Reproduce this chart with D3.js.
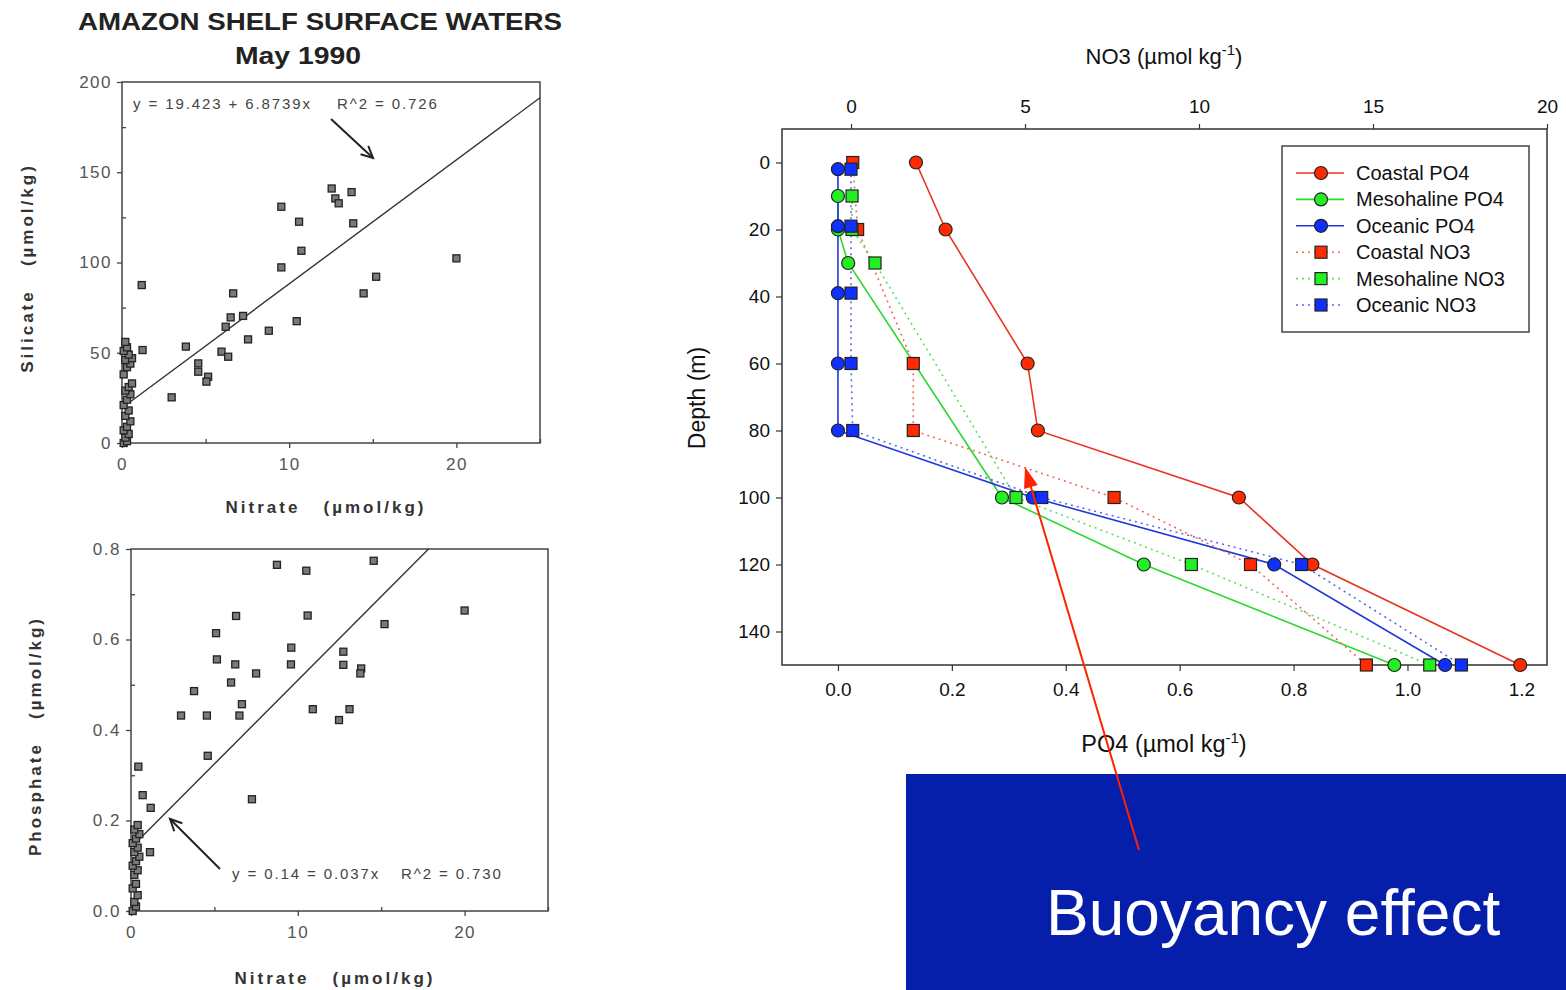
<!DOCTYPE html>
<html>
<head>
<meta charset="utf-8">
<script src="https://cdn.jsdelivr.net/npm/d3@7"></script>
<style>
body { margin: 0; background: #fff; }
text { font-family: "Liberation Sans", Arial, sans-serif; }
</style>
</head>
<body>
<script>
// ---- left panels: nitrate vs silicate / phosphate (scanned figure) ----
var silicatePoints = [
  [0.1, 0], [0.3, 1], [0.2, 3], [0.4, 5], [0.1, 7], [0.3, 9], [0.5, 12], [0.2, 15],
  [0.4, 18], [0.1, 21], [0.3, 24], [0.5, 27], [0.2, 29], [0.4, 31], [0.6, 33], [0.1, 38],
  [0.3, 42], [0.5, 44], [0.2, 46], [0.6, 47], [0.4, 49], [0.1, 51], [0.3, 53], [0.2, 56],
  [1.18, 87.5], [1.23, 51.5], [3.82, 53.4], [2.97, 25.3], [4.56, 44.1], [4.56, 39.5],
  [5.15, 36.7], [5.05, 34], [5.95, 50.6], [6.35, 47.8], [6.2, 64.4], [6.5, 69.6],
  [6.65, 82.9], [7.24, 70.4], [7.54, 57.4], [8.78, 62.2], [10.45, 67.5], [9.53, 97.3],
  [9.53, 130.9], [10.59, 122.6], [10.73, 106.5], [12.54, 141], [13.73, 139], [12.76, 135.5],
  [12.96, 132.8], [13.83, 121.7], [14.45, 82.9], [15.2, 92.1], [20.0, 102.3]
];
var phosphatePoints = [
  [0.1, 0.0], [0.3, 0.01], [0.2, 0.02], [0.4, 0.035], [0.1, 0.05], [0.3, 0.06], [0.2, 0.08],
  [0.4, 0.09], [0.1, 0.1], [0.3, 0.11], [0.5, 0.12], [0.2, 0.13], [0.4, 0.14], [0.1, 0.15],
  [0.3, 0.16], [0.5, 0.17], [0.2, 0.18], [0.4, 0.19],
  [0.44, 0.319], [0.7, 0.256], [1.18, 0.228], [1.14, 0.13], [3.0, 0.432], [3.78, 0.486],
  [4.55, 0.432], [4.6, 0.343], [5.1, 0.614], [5.15, 0.556], [6.0, 0.505], [6.3, 0.652],
  [6.25, 0.545], [6.65, 0.457], [6.5, 0.432], [7.25, 0.247], [7.5, 0.525], [8.75, 0.765],
  [9.61, 0.582], [9.59, 0.545], [10.51, 0.752], [10.59, 0.653], [10.9, 0.446], [12.73, 0.573],
  [12.73, 0.544], [13.8, 0.536], [13.75, 0.525], [12.47, 0.422], [13.1, 0.446], [14.55, 0.774],
  [15.2, 0.634], [20.0, 0.664]
];
var silicateFit = [19.423, 6.8739];
var phosphateFit = [0.14, 0.037];
var silicateTicks = [0, 50, 100, 150, 200];
var phosphateTicks = [0, 0.2, 0.4, 0.6, 0.8];
var nitrateTicks = [0, 10, 20];

// ---- right panel: depth profiles ----
var depthCoastal = [0, 20, 60, 80, 100, 120, 150];
var depthMeso = [10, 20, 30, 100, 120, 150];
var depthOceanic = [2, 19, 39, 60, 80, 100, 120, 150];
var po4Coastal = [0.137, 0.189, 0.333, 0.351, 0.704, 0.833, 1.198];
var po4Meso = [0.0, 0.0, 0.018, 0.288, 0.537, 0.977];
var po4Oceanic = [0, 0, 0, 0, 0, 0.342, 0.766, 1.066];
var no3Coastal = [0.05, 0.19, 1.79, 1.79, 7.56, 11.48, 14.81];
var no3Meso = [0.03, 0.03, 0.69, 4.74, 9.78, 16.63];
var no3Oceanic = [0, 0, 0, 0, 0.05, 5.48, 12.95, 17.54];
var depthTicks = [0, 20, 40, 60, 80, 100, 120, 140];
var po4Ticks = [0, 0.2, 0.4, 0.6, 0.8, 1.0, 1.2];
var no3Ticks = [0, 5, 10, 15, 20];

var svg = d3.select("body").append("svg")
  .attr("width", 1566)
  .attr("height", 990);

// title of the scanned figure
svg.append("text")
  .attr("x", 78).attr("y", 30)
  .attr("textLength", 484).attr("lengthAdjust", "spacingAndGlyphs")
  .attr("font-size", 24).attr("font-weight", "bold").attr("fill", "#222")
  .text("AMAZON SHELF SURFACE WATERS");
svg.append("text")
  .attr("x", 298).attr("y", 64)
  .attr("text-anchor", "middle")
  .attr("textLength", 126).attr("lengthAdjust", "spacingAndGlyphs")
  .attr("font-size", 24).attr("font-weight", "bold").attr("fill", "#222")
  .text("May 1990");

function drawScatter(cfg) {
  var g = svg.append("g");
  var x = d3.scaleLinear().domain([0, 25]).range([cfg.left, cfg.right]);
  var y = d3.scaleLinear().domain([0, cfg.ymax]).range([cfg.bottom, cfg.top]);

  g.append("rect")
    .attr("x", cfg.left).attr("y", cfg.top)
    .attr("width", cfg.right - cfg.left).attr("height", cfg.bottom - cfg.top)
    .attr("fill", "none").attr("stroke", "#444").attr("stroke-width", 1.5);

  // minor ticks
  var leftMinor = d3.axisLeft(y).tickValues(cfg.yMinor).tickSize(-4).tickFormat("");
  var bottomMinor = d3.axisBottom(x).tickValues([5, 15, 25]).tickSize(-4).tickFormat("");
  g.append("g").attr("transform", `translate(${cfg.left},0)`).call(leftMinor);
  g.append("g").attr("transform", `translate(0,${cfg.bottom})`).call(bottomMinor);

  var leftAxis = d3.axisLeft(y).tickValues(cfg.yTicks).tickSize(5).tickPadding(5)
    .tickFormat(cfg.yFormat);
  var bottomAxis = d3.axisBottom(x).tickValues(nitrateTicks).tickSize(5).tickPadding(10)
    .tickFormat(d3.format("d"));
  g.append("g").attr("transform", `translate(${cfg.left},0)`).call(leftAxis);
  g.append("g").attr("transform", `translate(0,${cfg.bottom})`).call(bottomAxis);

  g.selectAll(".domain").remove();
  g.selectAll(".tick line").attr("stroke", "#444").attr("stroke-width", 1.3);
  g.selectAll(".tick text")
    .attr("font-size", 17).attr("fill", "#555")
    .attr("letter-spacing", 1.5)
    .style("font-family", "'Liberation Sans', Arial, sans-serif");

  // regression line
  var x0 = cfg.fitStart;
  var x1 = Math.min(25, (cfg.ymax - cfg.fit[0]) / cfg.fit[1]);
  g.append("line")
    .attr("x1", x(x0)).attr("y1", y(cfg.fit[0] + cfg.fit[1] * x0))
    .attr("x2", x(x1)).attr("y2", y(cfg.fit[0] + cfg.fit[1] * x1))
    .attr("stroke", "#333").attr("stroke-width", 1.4);

  // data points
  g.selectAll(".pt").data(cfg.points).enter().append("rect")
    .attr("class", "pt")
    .attr("x", d => x(d[0]) - 3.5)
    .attr("y", d => y(d[1]) - 3.5)
    .attr("width", 7).attr("height", 7)
    .attr("fill", "#7a7a7a").attr("stroke", "#222").attr("stroke-width", 1.3);

  // equation
  g.append("text")
    .attr("x", cfg.eqX).attr("y", cfg.eqY)
    .attr("font-size", 15).attr("letter-spacing", 1.9).attr("fill", "#444")
    .text(cfg.eq);
  g.append("text")
    .attr("x", cfg.r2X).attr("y", cfg.eqY)
    .attr("font-size", 15).attr("letter-spacing", 1.9).attr("fill", "#444")
    .text(cfg.r2);

  // arrow
  var a = cfg.arrow;
  var ang = Math.atan2(a[3] - a[1], a[2] - a[0]);
  g.append("line")
    .attr("x1", a[0]).attr("y1", a[1]).attr("x2", a[2]).attr("y2", a[3])
    .attr("stroke", "#222").attr("stroke-width", 2);
  var hl = 13, hw = 0.45;
  g.append("path")
    .attr("d", `M${a[2] - hl * Math.cos(ang - hw)},${a[3] - hl * Math.sin(ang - hw)} L${a[2]},${a[3]} L${a[2] - hl * Math.cos(ang + hw)},${a[3] - hl * Math.sin(ang + hw)}`)
    .attr("fill", "none").attr("stroke", "#222").attr("stroke-width", 2);

  // axis labels
  g.append("text")
    .attr("x", cfg.xlabX).attr("y", cfg.xlabY)
    .attr("text-anchor", "middle")
    .attr("font-size", 17).attr("font-weight", "bold").attr("letter-spacing", 3)
    .attr("fill", "#333").style("white-space", "pre")
    .text("Nitrate   (µmol/kg)");
  g.append("text")
    .attr("transform", `translate(${cfg.ylabX},${cfg.ylabY}) rotate(-90)`)
    .attr("text-anchor", "middle")
    .attr("font-size", 17).attr("font-weight", "bold").attr("letter-spacing", 3)
    .attr("fill", "#333").style("white-space", "pre")
    .text(cfg.ylab);
}

drawScatter({
  left: 122, right: 540, top: 82, bottom: 443, ymax: 200,
  yTicks: silicateTicks, yMinor: [25, 75, 125, 175], yFormat: d3.format("d"),
  points: silicatePoints, fit: silicateFit, fitStart: 0.4,
  eq: "y = 19.423 + 6.8739x", r2: "R^2 = 0.726", eqX: 133, r2X: 337, eqY: 109,
  arrow: [331, 119, 373, 158],
  xlabX: 326, xlabY: 513, ylabX: 33, ylabY: 268, ylab: "Silicate   (µmol/kg)"
});

drawScatter({
  left: 131, right: 548, top: 549, bottom: 911, ymax: 0.8,
  yTicks: phosphateTicks, yMinor: [0.1, 0.3, 0.5, 0.7], yFormat: d3.format(".1f"),
  points: phosphatePoints, fit: phosphateFit, fitStart: 0.5,
  eq: "y = 0.14 = 0.037x", r2: "R^2 = 0.730", eqX: 232, r2X: 401, eqY: 879,
  arrow: [220, 869, 170, 819],
  xlabX: 335, xlabY: 984, ylabX: 41, ylabY: 736, ylab: "Phosphate   (µmol/kg)"
});

// ---- right panel ----
var xPO4 = d3.scaleLinear().domain([-0.1, 1.245]).range([781, 1547]);
var xNO3 = d3.scaleLinear().domain([-1.983, 20]).range([782, 1547]);
var yDepth = d3.scaleLinear().domain([-10, 150]).range([129, 665]);

var rg = svg.append("g");
rg.append("rect")
  .attr("x", 782).attr("y", 129).attr("width", 1547 - 782).attr("height", 665 - 129)
  .attr("fill", "none").attr("stroke", "#333").attr("stroke-width", 1.5);

rg.append("g").attr("transform", "translate(782,0)")
  .call(d3.axisLeft(yDepth).tickValues(depthTicks).tickSize(6).tickPadding(6));
rg.append("g").attr("transform", "translate(0,665)")
  .call(d3.axisBottom(xPO4).tickValues(po4Ticks).tickSize(6).tickPadding(12)
    .tickFormat(d3.format(".1f")));
rg.append("g").attr("transform", "translate(0,129)")
  .call(d3.axisTop(xNO3).tickValues(no3Ticks).tickSize(5).tickPadding(11)
    .tickFormat(d3.format("d")));
rg.selectAll(".domain").remove();
rg.selectAll(".tick line").attr("stroke", "#333").attr("stroke-width", 1.2);
rg.selectAll(".tick text")
  .attr("font-size", 19).attr("fill", "#111")
  .style("font-family", "'Liberation Sans', Arial, sans-serif");

// axis titles
var t1 = rg.append("text").attr("x", 1164).attr("y", 64).attr("text-anchor", "middle")
  .attr("font-size", 22).attr("fill", "#111");
t1.append("tspan").text("NO3 (µmol kg");
t1.append("tspan").attr("dy", -9).attr("font-size", 15).text("-1");
t1.append("tspan").attr("dy", 9).text(")");

var t2 = rg.append("text").attr("x", 1164).attr("y", 752).attr("text-anchor", "middle")
  .attr("font-size", 23.5).attr("fill", "#111");
t2.append("tspan").text("PO4 (µmol kg");
t2.append("tspan").attr("dy", -9).attr("font-size", 15).text("-1");
t2.append("tspan").attr("dy", 9).text(")");

rg.append("text")
  .attr("transform", "translate(705,398) rotate(-90)")
  .attr("text-anchor", "middle")
  .attr("font-size", 23).attr("fill", "#111")
  .text("Depth (m)");

var series = [
  { name: "Coastal PO4", depth: depthCoastal, vals: po4Coastal, x: xPO4, shape: "circle", color: "#e8341c", fill: "#ff2a00", dash: null },
  { name: "Mesohaline PO4", depth: depthMeso, vals: po4Meso, x: xPO4, shape: "circle", color: "#2fd82f", fill: "#22f022", dash: null },
  { name: "Oceanic PO4", depth: depthOceanic, vals: po4Oceanic, x: xPO4, shape: "circle", color: "#2238d8", fill: "#1030ff", dash: null },
  { name: "Coastal NO3", depth: depthCoastal, vals: no3Coastal, x: xNO3, shape: "square", color: "#f06a5a", fill: "#ff2a00", dash: "2,4" },
  { name: "Mesohaline NO3", depth: depthMeso, vals: no3Meso, x: xNO3, shape: "square", color: "#5ce05c", fill: "#22f022", dash: "2,4" },
  { name: "Oceanic NO3", depth: depthOceanic, vals: no3Oceanic, x: xNO3, shape: "square", color: "#5a6ae8", fill: "#1030ff", dash: "2,4" }
];

var line = d3.line();
series.forEach(function(s) {
  var pts = s.vals.map((v, i) => [s.x(v), yDepth(s.depth[i])]);
  rg.append("path")
    .attr("d", line(pts))
    .attr("fill", "none").attr("stroke", s.color)
    .attr("stroke-width", 1.6)
    .attr("stroke-dasharray", s.dash);
});

function drawMarker(g, shape, cx, cy, fill) {
  if (shape === "circle") {
    g.append("circle").attr("cx", cx).attr("cy", cy).attr("r", 6.5)
      .attr("fill", fill).attr("stroke", "#222").attr("stroke-width", 1.2);
  } else {
    g.append("rect").attr("x", cx - 6).attr("y", cy - 6).attr("width", 12).attr("height", 12)
      .attr("fill", fill).attr("stroke", "#222").attr("stroke-width", 1.2);
  }
}

series.forEach(function(s) {
  s.vals.forEach(function(v, i) {
    drawMarker(rg, s.shape, s.x(v), yDepth(s.depth[i]), s.fill);
  });
});

// legend
var lg = rg.append("g");
lg.append("rect")
  .attr("x", 1282).attr("y", 146).attr("width", 247).attr("height", 186)
  .attr("fill", "#fff").attr("stroke", "#444").attr("stroke-width", 1.5);
series.forEach(function(s, i) {
  var ly = 173 + i * 26.4;
  lg.append("line")
    .attr("x1", 1296).attr("x2", 1344).attr("y1", ly).attr("y2", ly)
    .attr("stroke", s.color).attr("stroke-width", 1.6)
    .attr("stroke-dasharray", s.dash);
  drawMarker(lg, s.shape, 1321, ly, s.fill);
  lg.append("text")
    .attr("x", 1356).attr("y", ly + 7)
    .attr("font-size", 20).attr("fill", "#111")
    .text(s.name);
});

// ---- annotation box ----
svg.append("rect")
  .attr("x", 906).attr("y", 774).attr("width", 660).attr("height", 216)
  .attr("fill", "#061faa");
svg.append("text")
  .attr("x", 1046).attr("y", 935)
  .attr("font-size", 64).attr("fill", "#fff")
  .text("Buoyancy effect");

// red arrow
var ax0 = 1139, ay0 = 850, ax1 = 1025, ay1 = 467;
var rang = Math.atan2(ay1 - ay0, ax1 - ax0);
svg.append("line")
  .attr("x1", ax0).attr("y1", ay0)
  .attr("x2", ax1 - 14 * Math.cos(rang)).attr("y2", ay1 - 14 * Math.sin(rang))
  .attr("stroke", "#ff2200").attr("stroke-width", 2);
var ah = 22, aw = 0.33;
svg.append("path")
  .attr("d", `M${ax1},${ay1} L${ax1 - ah * Math.cos(rang - aw)},${ay1 - ah * Math.sin(rang - aw)} L${ax1 - ah * Math.cos(rang + aw)},${ay1 - ah * Math.sin(rang + aw)} Z`)
  .attr("fill", "#ff2200");
</script>
</body>
</html>
